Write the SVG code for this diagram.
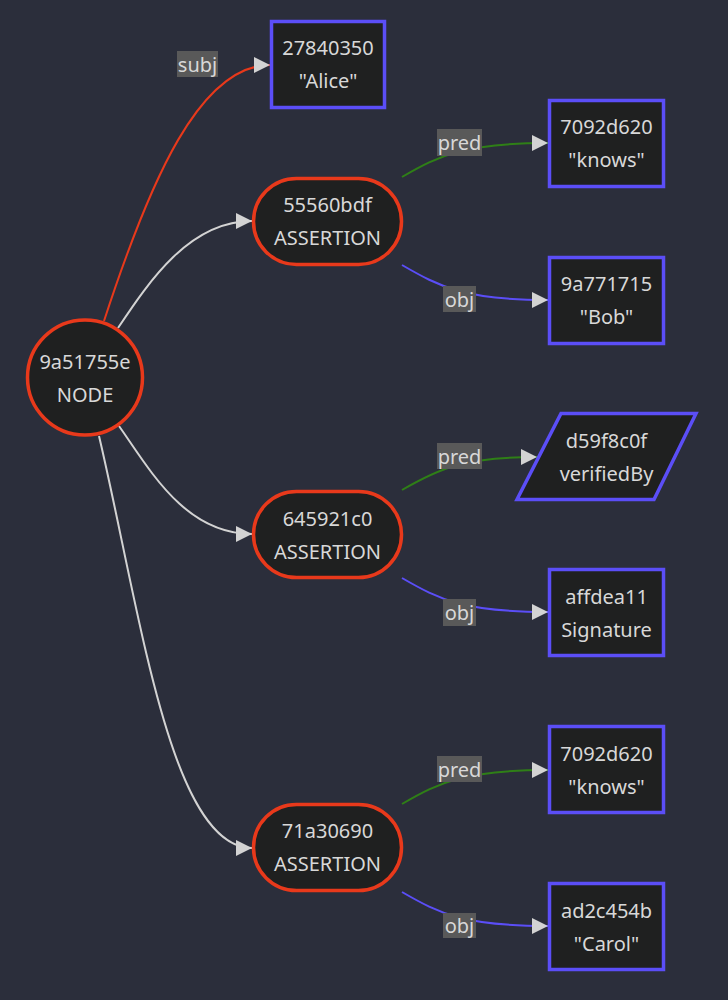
<svg xmlns="http://www.w3.org/2000/svg" width="728" height="1000" viewBox="0 0 728 1000">
<style>
text{font-family:"Noto Sans","Open Sans",sans-serif;font-size:20px;fill:#d8d8d8;text-anchor:middle;dominant-baseline:central}
.lit{stroke:#5b4ef7;stroke-width:3.5;fill:#1f2020}
.asr{stroke:#e8391b;stroke-width:3.5;fill:#1f2020}
.e{fill:none;stroke-width:2}
.lbl{fill:#595959}
</style>
<defs>
<marker id="ah" viewBox="0 0 10 10" refX="10" refY="5" markerWidth="16" markerHeight="16" markerUnits="userSpaceOnUse" orient="auto">
<path d="M0,0 L10,5 L0,10 z" fill="#d3d3d3"/>
</marker>
</defs>
<rect width="728" height="1000" fill="#2b2e3b"/>
<g id="connectors">
<path class="e" stroke="#e8391b" d="M104,321 C150,180 200,65 270,65" marker-end="url(#ah)"/>
<path class="e" stroke="#d3d3d3" d="M118,328 C150,280 190,221 252,221" marker-end="url(#ah)"/>
<path class="e" stroke="#d3d3d3" d="M119,426 C150,470 185,534 252,534" marker-end="url(#ah)"/>
<path class="e" stroke="#d3d3d3" d="M99,436 C140,610 170,848 252,848" marker-end="url(#ah)"/>
<path class="e" stroke="#2f7f17" d="M402,177 C440,155 465,143 548,143" marker-end="url(#ah)"/>
<path class="e" stroke="#5b4ef7" d="M402,265 C440,287 465,300 548,300" marker-end="url(#ah)"/>
<path class="e" stroke="#2f7f17" d="M402,490 C440,468 465,457 537,457" marker-end="url(#ah)"/>
<path class="e" stroke="#5b4ef7" d="M402,578 C440,600 465,612 548,612" marker-end="url(#ah)"/>
<path class="e" stroke="#2f7f17" d="M402,804 C440,782 465,770 548,770" marker-end="url(#ah)"/>
<path class="e" stroke="#5b4ef7" d="M402,892 C440,914 465,926 548,926" marker-end="url(#ah)"/>
<rect class="lbl" x="177" y="51" width="41" height="26"/><text x="197.5" y="64">subj</text>
<rect class="lbl" x="437" y="129" width="45" height="27"/><text x="459.5" y="142.5">pred</text>
<rect class="lbl" x="443" y="286" width="33" height="26"/><text x="459.5" y="299">obj</text>
<rect class="lbl" x="437" y="443" width="45" height="26"/><text x="459.5" y="456">pred</text>
<rect class="lbl" x="443" y="599" width="33" height="27"/><text x="459.5" y="612.5">obj</text>
<rect class="lbl" x="437" y="756" width="45" height="26"/><text x="459.5" y="769">pred</text>
<rect class="lbl" x="443" y="913" width="33" height="25"/><text x="459.5" y="925.5">obj</text>
</g>
<g id="node-9a51755e">
<circle class="asr" cx="85" cy="377.5" r="57.5"/>
<text x="85" y="361.5">9a51755e</text><text x="85" y="394">NODE</text>
</g>
<g id="node-27840350">
<rect class="lit" x="271.5" y="21.5" width="113" height="86"/>
<text x="328" y="47.5">27840350</text><text x="328" y="80.5">"Alice"</text>
</g>
<g id="node-55560bdf">
<rect class="asr" x="253.5" y="178.5" width="148" height="86" rx="43"/>
<text x="327.5" y="204.5">55560bdf</text><text x="327.5" y="237.5">ASSERTION</text>
</g>
<g id="node-7092d620-a">
<rect class="lit" x="549.5" y="100.5" width="114" height="86"/>
<text x="606.5" y="126">7092d620</text><text x="606.5" y="159">"knows"</text>
</g>
<g id="node-9a771715">
<rect class="lit" x="549.5" y="257.5" width="114" height="86"/>
<text x="606.5" y="283">9a771715</text><text x="606.5" y="316">"Bob"</text>
</g>
<g id="node-645921c0">
<rect class="asr" x="253.5" y="491.5" width="148" height="86" rx="43"/>
<text x="327.5" y="518">645921c0</text><text x="327.5" y="551">ASSERTION</text>
</g>
<g id="node-d59f8c0f">
<polygon class="lit" points="561,413.5 696,413.5 654,499.5 517,499.5"/>
<text x="606.5" y="440">d59f8c0f</text><text x="606.5" y="473">verifiedBy</text>
</g>
<g id="node-affdea11">
<rect class="lit" x="549.5" y="569.5" width="114" height="86"/>
<text x="606.5" y="596">affdea11</text><text x="606.5" y="629">Signature</text>
</g>
<g id="node-71a30690">
<rect class="asr" x="253.5" y="804.5" width="148" height="86" rx="43"/>
<text x="327.5" y="830.5">71a30690</text><text x="327.5" y="863.5">ASSERTION</text>
</g>
<g id="node-7092d620-b">
<rect class="lit" x="549.5" y="726.5" width="114" height="86"/>
<text x="606.5" y="753">7092d620</text><text x="606.5" y="786">"knows"</text>
</g>
<g id="node-ad2c454b">
<rect class="lit" x="549.5" y="883.5" width="114" height="86"/>
<text x="606.5" y="910">ad2c454b</text><text x="606.5" y="943">"Carol"</text>
</g>
</svg>
